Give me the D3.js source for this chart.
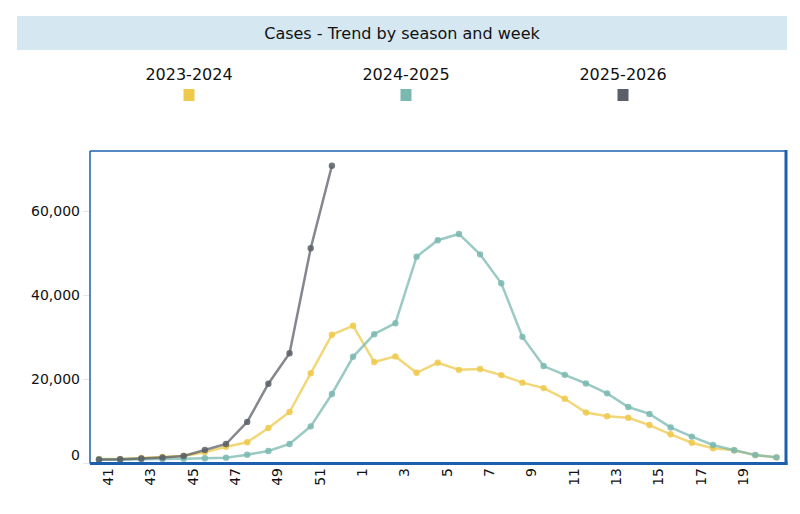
<!DOCTYPE html>
<html>
<head>
<meta charset="utf-8">
<script src="https://cdn.jsdelivr.net/npm/d3@7"></script>
<style>
  body { margin: 0; background: #fff; }
  svg { display: block; font-family: "DejaVu Sans", Verdana, sans-serif; }
</style>
</head>
<body>
<svg id="chart" width="800" height="514"></svg>
<script>
// semanas de la temporada (41 a 52, luego 1 a 21)
const weeks = [41, 42, 43, 44, 45, 46, 47, 48, 49, 50, 51, 52,
  1, 2, 3, 4, 5, 6, 7, 8, 9, 10, 11, 12, 13, 14, 15, 16, 17, 18, 19, 20, 21];

const seasons = ["2023-2024", "2024-2025", "2025-2026"];
const colors = ["#eec94b", "#7ab8b0", "#5b5f67"];

const cases2023 = [1070, 1070, 1300, 1550, 1790, 2670, 4000, 5050, 8450, 12260, 21480, 30670,
  32800, 24150, 25500, 21600, 24000, 22300, 22500, 21050, 19250, 17950, 15400, 12150,
  11250, 10900, 9150, 6950, 4950, 3620, 3140, 2000, 1450];
const cases2024 = [900, 900, 1000, 1070, 1150, 1240, 1390, 2100, 2980, 4640, 8850, 16550,
  25400, 30800, 33400, 49250, 53150, 54650, 49800, 42900, 30150, 23200, 21100, 19050,
  16700, 13450, 11800, 8600, 6400, 4400, 3140, 2020, 1470];
const cases2025 = [950, 1000, 1200, 1450, 1800, 3200, 4640, 9900, 19000, 26250, 51250, 70900];

const yTicks = [0, 20000, 40000, 60000];

const series = [cases2023, cases2024, cases2025];

// Grafico
const svg = d3.select("#chart");

const plot = {left: 90, right: 786, top: 151, bottom: 463.5};

// barra del titulo
svg.append("rect")
  .attr("x", 17).attr("y", 16).attr("width", 770).attr("height", 34)
  .attr("fill", "#d5e8f1");
svg.append("text")
  .attr("x", 402).attr("y", 33).attr("dy", "0.35em")
  .attr("text-anchor", "middle")
  .style("font-size", "16px").attr("fill", "#111")
  .text("Cases - Trend by season and week");

// leyenda
const legendX = d3.scalePoint().domain(seasons).range([189, 623]);
const legend = svg.append("g").selectAll("g").data(seasons).join("g")
  .attr("transform", d => `translate(${legendX(d)},0)`);
legend.append("text")
  .attr("y", 74).attr("dy", "0.35em").attr("text-anchor", "middle")
  .style("font-size", "16px").attr("fill", "#111")
  .text(d => d);
legend.append("rect")
  .attr("x", -5.5).attr("y", 89).attr("width", 11).attr("height", 12)
  .attr("fill", (d, i) => colors[i]);

const x = d3.scaleLinear().domain([0, weeks.length - 1]).range([99, 776.5]);
const y = d3.scaleLinear().domain([0, 74400]).range([plot.bottom, plot.top]);

// marcas del eje y
const yAxis = svg.append("g");
yAxis.selectAll("line").data(yTicks).join("line")
  .attr("x1", 83).attr("x2", plot.left)
  .attr("y1", d => y(d)).attr("y2", d => y(d))
  .attr("stroke", "#e6e6e6");
yAxis.selectAll("text").data(yTicks).join("text")
  .attr("x", 80)
  .attr("y", d => d === 0 ? y(d) - 8 : y(d))
  .attr("dy", "0.35em").attr("text-anchor", "end")
  .style("font-size", "14px").attr("fill", "#111")
  .text(d => d3.format(",")(d));

// etiquetas del eje x (cada dos semanas)
const xAxis = svg.append("g");
xAxis.selectAll("text").data(weeks.map((w, i) => ({w, i})).filter(d => d.i % 2 === 0 && d.i < 31))
  .join("text")
  .attr("transform", d => `translate(${x(d.i) + 9},468) rotate(-90)`)
  .attr("dy", "0.35em").attr("text-anchor", "end")
  .style("font-size", "14px").attr("fill", "#111")
  .text(d => d.w);

// bordes del area
svg.append("line").attr("x1", plot.left).attr("x2", plot.right)
  .attr("y1", plot.top).attr("y2", plot.top)
  .attr("stroke", "#1c5fae").attr("stroke-width", 1.5);
svg.append("line").attr("x1", plot.left).attr("x2", plot.left)
  .attr("y1", plot.top).attr("y2", plot.bottom)
  .attr("stroke", "#1c5fae").attr("stroke-width", 1.5);

// lineas
const line = d3.line().x((d, i) => x(i)).y(d => y(d));
series.forEach((data, s) => {
  const g = svg.append("g");
  g.append("path")
    .attr("d", line(data))
    .attr("fill", "none")
    .attr("stroke", colors[s])
    .attr("stroke-opacity", 0.75)
    .attr("stroke-width", 2.5);
  g.selectAll("circle").data(data).join("circle")
    .attr("cx", (d, i) => x(i)).attr("cy", d => y(d))
    .attr("r", 3.2)
    .attr("fill", colors[s]).attr("fill-opacity", 0.85);
});

svg.append("line").attr("x1", plot.right).attr("x2", plot.right)
  .attr("y1", plot.top - 1).attr("y2", plot.bottom + 1.5)
  .attr("stroke", "#1c5fae").attr("stroke-width", 3);
svg.append("line").attr("x1", plot.left).attr("x2", plot.right + 1.5)
  .attr("y1", plot.bottom).attr("y2", plot.bottom)
  .attr("stroke", "#1c5fae").attr("stroke-width", 3);
</script>
</body>
</html>
